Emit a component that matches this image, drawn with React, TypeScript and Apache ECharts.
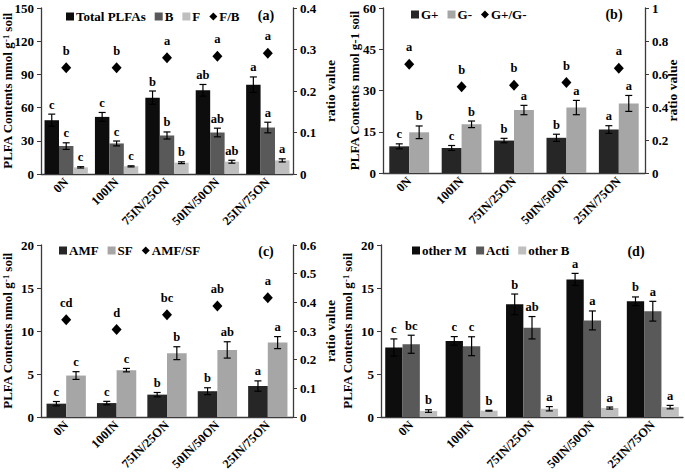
import React, { useEffect, useRef } from "react";
import * as echarts from "echarts";

const categories = ["0N", "100IN", "75IN/25ON", "50IN/50ON", "25IN/75ON"];

// Panel (a)
const totalPLFAs = [48.6, 51.6, 69.0, 75.6, 80.7];
const totalErr = [5.5, 4.0, 6.0, 5.3, 7.0];
const totalLetters = ["c", "c", "b", "ab", "a"];
const bVals = [25.2, 27.6, 34.8, 37.5, 42.0];
const bErr = [3.0, 2.2, 3.2, 3.9, 4.8];
const bLetters = ["c", "c", "b", "ab", "a"];
const fVals = [6.0, 6.9, 10.2, 11.1, 12.3];
const fErr = [0.6, 0.5, 0.8, 1.3, 1.4];
const fLetters = ["c", "c", "b", "ab", "a"];
const fbRatio = [0.256, 0.256, 0.28, 0.284, 0.291];
const fbLetters = ["b", "b", "a", "a", "a"];

// Panel (b)
const gPlus = [9.7, 9.1, 11.8, 12.8, 15.8];
const gPlusErr = [0.9, 0.9, 0.8, 1.3, 1.4];
const gPlusLetters = ["c", "c", "b", "b", "a"];
const gMinus = [14.8, 17.7, 22.9, 23.8, 25.3];
const gMinusErr = [2.3, 1.2, 1.7, 2.6, 2.9];
const gMinusLetters = ["b", "b", "a", "a", "a"];
const gRatio = [0.659, 0.522, 0.532, 0.548, 0.635];
const gRatioLetters = ["a", "b", "b", "b", "a"];

// Panel (c)
const amf = [1.55, 1.62, 2.6, 3.0, 3.6];
const amfErr = [0.25, 0.2, 0.25, 0.4, 0.6];
const amfLetters = ["c", "c", "b", "b", "a"];
const sf = [4.82, 5.45, 7.42, 7.8, 8.65];
const sfErr = [0.45, 0.2, 0.75, 0.95, 0.7];
const sfLetters = ["c", "c", "b", "ab", "a"];
const amfSfRatio = [0.339, 0.305, 0.357, 0.387, 0.416];
const amfSfLetters = ["cd", "d", "bc", "ab", "a"];

// Panel (d)
const otherM = [8.08, 8.85, 13.1, 16.0, 13.46];
const otherMErr = [1.0, 0.5, 1.2, 0.7, 0.5];
const otherMLetters = ["c", "c", "b", "a", "b"];
const acti = [8.46, 8.23, 10.38, 11.23, 12.3];
const actiErr = [1.05, 1.1, 1.3, 1.1, 1.15];
const actiLetters = ["bc", "c", "ab", "a", "a"];
const otherB = [0.69, 0.73, 0.96, 1.04, 1.15];
const otherBErr = [0.15, 0.05, 0.25, 0.12, 0.2];
const otherBLetters = ["b", "b", "a", "a", "a"];

const FONT = "Liberation Serif";
const BLACK = "#0d0d0d";
const DARK = "#262626";
const MID = "#595959";
const LIGHT = "#bfbfbf";
const LIGHT2 = "#a6a6a6";
const AXIS = "#3a3a3a";

function barSeries(name: string, xi: number, yi: number, data: number[], color: string, gap: string) {
  return {
    name,
    type: "bar",
    xAxisIndex: xi,
    yAxisIndex: yi,
    data,
    barGap: "0%",
    barCategoryGap: gap,
    itemStyle: { color },
    z: 2,
  };
}

function errSeries(
  xi: number,
  yi: number,
  vals: number[],
  errs: number[],
  letters: string[],
  k: number,
  n: number,
  gap: number
) {
  return {
    type: "custom",
    xAxisIndex: xi,
    yAxisIndex: yi,
    clip: false,
    silent: true,
    z: 5,
    data: vals.map((v, i) => [i, v, errs[i]]),
    encode: { x: 0, y: 1 },
    renderItem: (params: any, api: any) => {
      const i = api.value(0);
      const v = api.value(1);
      const e = api.value(2);
      const band = api.size([1, 0])[0];
      const gw = band * (1 - gap);
      const bw = gw / n;
      const cx = api.coord([i, v])[0] - gw / 2 + (k + 0.5) * bw;
      const yt = api.coord([i, v + e])[1];
      const yb = api.coord([i, v - e])[1];
      const cap = 3.5;
      const ls = { stroke: "#000", lineWidth: 1.2 };
      return {
        type: "group",
        children: [
          { type: "line", shape: { x1: cx, y1: yt, x2: cx, y2: yb }, style: ls },
          { type: "line", shape: { x1: cx - cap, y1: yt, x2: cx + cap, y2: yt }, style: ls },
          { type: "line", shape: { x1: cx - cap, y1: yb, x2: cx + cap, y2: yb }, style: ls },
          {
            type: "text",
            x: cx,
            y: yt - 3,
            style: {
              text: letters[params.dataIndex],
              fill: "#000",
              fontFamily: FONT,
              fontWeight: "bold",
              fontSize: 12.5,
              textAlign: "center",
              textVerticalAlign: "bottom",
            },
          },
        ],
      };
    },
  };
}

function ratioSeries(name: string, xi: number, yi: number, data: number[], letters: string[]) {
  return {
    name,
    type: "scatter",
    xAxisIndex: xi,
    yAxisIndex: yi,
    data,
    symbol: "diamond",
    symbolSize: [10, 11],
    itemStyle: { color: "#000", opacity: 1 },
    z: 6,
    label: {
      show: true,
      position: "top",
      distance: 5,
      formatter: (p: any) => letters[p.dataIndex],
      color: "#000",
      fontFamily: FONT,
      fontWeight: "bold",
      fontSize: 12.5,
    },
  };
}

const tickLabel = { color: "#000", fontFamily: FONT, fontWeight: "bold", fontSize: 13 };

function xAxis(gi: number) {
  return {
    type: "category",
    gridIndex: gi,
    data: categories,
    axisLine: { show: true, lineStyle: { color: AXIS, width: 1.3 } },
    axisTick: { show: false },
    axisLabel: { ...tickLabel, fontSize: 12.5, rotate: 45, margin: 6, interval: 0 },
    splitLine: { show: false },
  };
}

function leftAxis(gi: number, max: number, interval: number, name: string, gap: number, sup: boolean) {
  return {
    type: "value",
    gridIndex: gi,
    position: "left",
    min: 0,
    max,
    interval,
    name: sup ? "PLFA Contents nmol g{sup|-1} soil" : name,
    nameLocation: "middle",
    nameGap: gap,
    nameMoveOverlap: false,
    nameTextStyle: {
      color: "#000",
      fontFamily: FONT,
      fontWeight: "bold",
      fontSize: 13,
      rich: {
        sup: { fontSize: 8.5, fontFamily: FONT, fontWeight: "bold", color: "#000", verticalAlign: "top", lineHeight: 8 },
      },
    },
    axisLine: { show: true, lineStyle: { color: AXIS, width: 1.3 } },
    axisTick: { show: true, inside: false, length: 4, lineStyle: { color: AXIS } },
    axisLabel: { ...tickLabel, margin: 7 },
    splitLine: { show: false },
  };
}

function rightAxis(gi: number, max: number, interval: number, gap: number) {
  return {
    type: "value",
    gridIndex: gi,
    position: "right",
    min: 0,
    max,
    interval,
    name: "ratio value",
    nameLocation: "middle",
    nameGap: gap,
    nameMoveOverlap: false,
    nameRotate: 90,
    nameTextStyle: { color: "#000", fontFamily: FONT, fontWeight: "bold", fontSize: 13.5 },
    axisLine: { show: true, lineStyle: { color: AXIS, width: 1.3 } },
    axisTick: { show: true, inside: false, length: 4, lineStyle: { color: AXIS } },
    axisLabel: { ...tickLabel, margin: 7 },
    splitLine: { show: false },
  };
}

function legend(left: number, top: number, items: { name: string; icon: string }[]) {
  return {
    left,
    top,
    orient: "horizontal",
    padding: 0,
    itemWidth: 8,
    itemHeight: 8,
    itemGap: 9,
    selectedMode: false,
    data: items,
    textStyle: { color: "#000", fontFamily: FONT, fontWeight: "bold", fontSize: 13, padding: [0, 0, 0, -3] },
  };
}

function panelLabel(text: string, x: number, y: number) {
  return {
    type: "text",
    x,
    y,
    style: {
      text,
      fill: "#000",
      fontFamily: FONT,
      fontWeight: "bold",
      fontSize: 14,
      textAlign: "center",
      textVerticalAlign: "middle",
    },
  };
}

export default function App() {
  const ref = useRef<HTMLDivElement>(null);
  useEffect(() => {
    if (!ref.current) return;
    const chart = echarts.init(ref.current, null, { renderer: "svg" });
    const option: any = {
      animation: false,
      backgroundColor: "#fff",
      grid: [
        { left: 41, top: 8, width: 252, height: 166, outerBoundsMode: "none" },
        { left: 383, top: 8, width: 262, height: 165, outerBoundsMode: "none" },
        { left: 41, top: 245, width: 252, height: 172, outerBoundsMode: "none" },
        { left: 381, top: 245, width: 302, height: 172, outerBoundsMode: "none" },
      ],
      xAxis: [xAxis(0), xAxis(1), xAxis(2), xAxis(3)],
      yAxis: [
        leftAxis(0, 150, 30, "", 27, true),
        rightAxis(0, 0.4, 0.1, 30),
        leftAxis(1, 60, 15, "PLFA Contents nmol g-1 soil", 22, false),
        rightAxis(1, 1, 0.2, 20),
        leftAxis(2, 20, 5, "", 27, true),
        rightAxis(2, 0.6, 0.1, 30),
        leftAxis(3, 20, 5, "", 27, true),
      ],
      legend: [
        legend(66, 10, [
          { name: "Total PLFAs", icon: "rect" },
          { name: "B", icon: "rect" },
          { name: "F", icon: "rect" },
          { name: "F/B", icon: "diamond" },
        ]),
        legend(411, 8, [
          { name: "G+", icon: "rect" },
          { name: "G-", icon: "rect" },
          { name: "G+/G-", icon: "diamond" },
        ]),
        legend(59, 244, [
          { name: "AMF", icon: "rect" },
          { name: "SF", icon: "rect" },
          { name: "AMF/SF", icon: "diamond" },
        ]),
        legend(412, 244, [
          { name: "other M", icon: "rect" },
          { name: "Acti", icon: "rect" },
          { name: "other B", icon: "rect" },
        ]),
      ],
      graphic: [
        panelLabel("(a)", 266, 15),
        panelLabel("(b)", 614, 14),
        panelLabel("(c)", 266, 251),
        panelLabel("(d)", 636, 251),
      ],
      series: [
        barSeries("Total PLFAs", 0, 0, totalPLFAs, BLACK, "14%"),
        barSeries("B", 0, 0, bVals, MID, "14%"),
        barSeries("F", 0, 0, fVals, LIGHT, "14%"),
        errSeries(0, 0, totalPLFAs, totalErr, totalLetters, 0, 3, 0.14),
        errSeries(0, 0, bVals, bErr, bLetters, 1, 3, 0.14),
        errSeries(0, 0, fVals, fErr, fLetters, 2, 3, 0.14),
        ratioSeries("F/B", 0, 1, fbRatio, fbLetters),

        barSeries("G+", 1, 2, gPlus, DARK, "24%"),
        barSeries("G-", 1, 2, gMinus, LIGHT2, "24%"),
        errSeries(1, 2, gPlus, gPlusErr, gPlusLetters, 0, 2, 0.24),
        errSeries(1, 2, gMinus, gMinusErr, gMinusLetters, 1, 2, 0.24),
        ratioSeries("G+/G-", 1, 3, gRatio, gRatioLetters),

        barSeries("AMF", 2, 4, amf, DARK, "22%"),
        barSeries("SF", 2, 4, sf, LIGHT2, "22%"),
        errSeries(2, 4, amf, amfErr, amfLetters, 0, 2, 0.22),
        errSeries(2, 4, sf, sfErr, sfLetters, 1, 2, 0.22),
        ratioSeries("AMF/SF", 2, 5, amfSfRatio, amfSfLetters),

        barSeries("other M", 3, 6, otherM, BLACK, "14%"),
        barSeries("Acti", 3, 6, acti, MID, "14%"),
        barSeries("other B", 3, 6, otherB, LIGHT, "14%"),
        errSeries(3, 6, otherM, otherMErr, otherMLetters, 0, 3, 0.14),
        errSeries(3, 6, acti, actiErr, actiLetters, 1, 3, 0.14),
        errSeries(3, 6, otherB, otherBErr, otherBLetters, 2, 3, 0.14),
      ],
    };
    chart.setOption(option);
    return () => chart.dispose();
  }, []);
  return (
    <div
      ref={ref}
      style={{ position: "absolute", left: 0, top: 0, width: 685, height: 473, background: "#fff" }}
    />
  );
}
